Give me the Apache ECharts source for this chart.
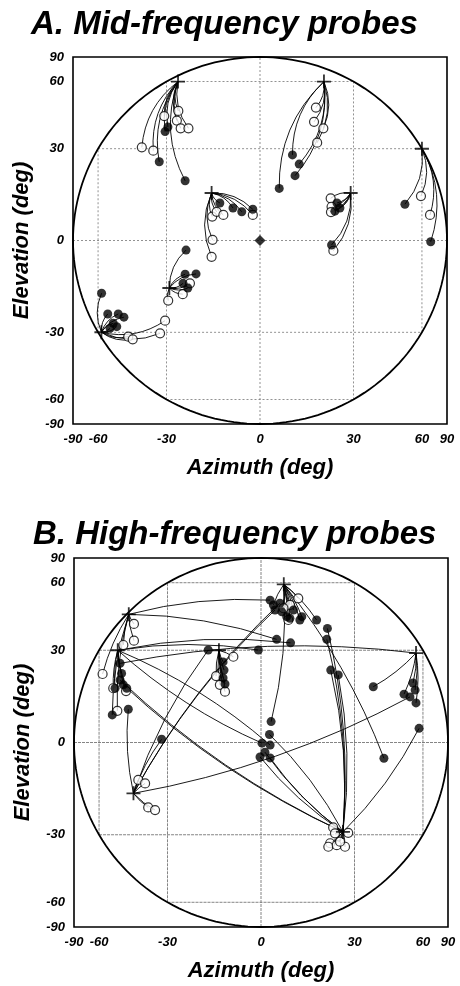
<!DOCTYPE html>
<html><head><meta charset="utf-8">
<script src="https://cdn.jsdelivr.net/npm/echarts@6/dist/echarts.min.js"></script>
<style>html,body{margin:0;padding:0;background:#fff}#c{width:460px;height:986px}</style>
</head><body><div id="c"></div>
<script>
// ---- tick labels (degrees) ----
const tickDeg = [-90, -60, -30, 0, 30, 60, 90];
const gridDeg = [-60, -30, 0, 30, 60];

// ---- Panel A: mid-frequency probes ----
const aTitle = 'A. Mid-frequency probes';
const aTargets = [[-26, 60], [20, 60], [60, 30], [-15, 15], [29, 15], [-29, -15], [-58, -30]];
const aFixation = [[0, 0]];
// [targetIndex, azimuth, elevation]
const aOpen = [
  [0, -25.9, 44.9], [0, -26.4, 40.8], [0, -25.1, 37.7], [0, -22.5, 37.7], [0, -30.8, 42.7],
  [0, -39.2, 30.5], [0, -34.8, 29.3],
  [1, 17.4, 46.4], [1, 16.8, 40.3], [1, 19.8, 37.7], [1, 17.8, 32.2],
  [2, 59.4, 14.0], [2, 65.4, 8.0],
  [3, -14.8, 7.5], [3, -14.7, 0.2], [3, -15.0, -5.1], [3, -13.4, 9.0], [3, -11.3, 8.0], [3, -2.2, 8.0],
  [4, 22.2, 13.3], [4, 22.5, 10.6], [4, 22.3, 8.9], [4, 23.1, -3.2],
  [5, -22.0, -13.5], [5, -24.4, -17.0], [5, -29.4, -19.1],
  [6, -30.5, -25.9], [6, -32.3, -30.4], [6, -44.8, -31.6], [6, -42.9, -32.6]
];
const aFilled = [
  [0, -30.5, 36.4], [0, -29.5, 38.2], [0, -32.6, 25.4], [0, -23.6, 19.0],
  [1, 10.0, 27.8], [1, 12.1, 24.6], [1, 10.8, 20.7], [1, 5.9, 16.5],
  [2, 50.8, 11.4], [2, 65.9, -0.4],
  [3, -12.4, 11.8], [3, -8.3, 10.2], [3, -5.6, 9.0], [3, -2.2, 9.8],
  [4, 24.3, 11.8], [4, 25.3, 10.2], [4, 23.6, 9.2], [4, 22.5, -1.4],
  [5, -23.3, -3.0], [5, -23.6, -10.6], [5, -20.0, -10.5], [5, -24.3, -13.5], [5, -22.7, -15.0],
  [6, -57.9, -16.7], [6, -54.5, -23.6], [6, -49.3, -23.6], [6, -46.7, -24.7],
  [6, -51.7, -26.8], [6, -50.0, -28.0], [6, -53.3, -28.6]
];

// ---- Panel B: high-frequency probes ----
const bTitle = 'B. High-frequency probes';
const bTargets = [[-45, 44], [-50, 30], [-13, 30], [7, 59], [56, 29], [26, -29], [-43, -16]];
const bFixation = [];
const bOpen = [
  [0, -42.8, 40.0], [0, -42.8, 33.5], [0, -47.4, 31.9], [0, -57.9, 21.8], [0, -50.2, 9.9],
  [1, -52.2, 17.1], [1, -46.2, 16.2],
  [2, -12.7, 18.2], [2, -11.1, 16.0], [2, -8.5, 27.7], [2, -13.9, 21.1],
  [3, 11.5, 51.4], [3, 8.9, 48.2], [3, 6.9, 46.7], [3, 8.4, 41.6],
  [5, 22.7, -27.4], [5, 23.3, -29.5], [5, 27.8, -29.3], [5, 21.7, -33.1], [5, 21.1, -34.4],
  [5, 23.9, -33.8], [5, 26.7, -34.4], [5, 25.0, -32.5],
  [6, -41.0, -11.7], [6, -38.3, -12.8], [6, -37.1, -20.6], [6, -34.5, -21.5]
];
const bFilled = [
  [0, 2.8, 50.5], [0, 4.8, 34.0], [0, -52.7, 8.6],
  [1, -48.2, 22.0], [1, -51.3, 17.1], [1, -45.9, 17.1], [1, -0.8, 30.1], [1, 9.1, 32.7],
  [1, 0.3, -0.2], [1, 2.8, -0.8],
  [4, -48.9, 25.4],
  [2, -11.7, 25.9], [2, -11.4, 23.1], [2, -11.7, 20.5], [2, -11.1, 18.5],
  [3, 7.9, 43.0], [3, 12.0, 41.6], [3, 10.0, 45.9], [3, 17.3, 41.6],
  [3, 3.8, 48.2], [3, 6.4, 45.1], [3, 8.9, 42.3], [3, 12.6, 43.0],
  [3, 41.1, -4.9], [3, 3.1, 6.5],
  [4, 36.9, 17.6], [4, 54.4, 18.8], [4, 55.5, 16.5], [4, 56.0, 12.4], [4, 49.9, 15.2],
  [5, 20.8, 38.2], [5, 20.6, 34.0], [5, 21.9, 23.1], [5, 24.4, 21.5], [5, 57.7, 4.4],
  [5, 2.6, 2.5], [5, 1.2, -3.0], [5, 2.8, -4.8], [5, -0.3, -4.5],
  [5, -48.9, 19.8], [5, -47.4, 18.2],
  [6, -32.1, 1.0], [6, 5.8, 49.0], [6, 4.3, 45.9], [6, -16.4, 30.1], [6, 52.8, 14.3], [6, -45.2, 10.4]
];

// ---- helpers ----
const R = Math.PI / 180;
const S = d => Math.sin(d * R);
const P = (az, el) => [S(az), S(el)];
const FONT = '"Liberation Sans", Arial, Helvetica, sans-serif';

const panels = [
  { title: aTitle, targets: aTargets, fix: aFixation, open: aOpen, filled: aFilled,
    grid: { left: 73, top: 57, width: 374, height: 367 }, titleLeft: 26, titleTop: 3, k: 0.22, dash: [2, 2], gcol: '#777' },
  { title: bTitle, targets: bTargets, fix: bFixation, open: bOpen, filled: bFilled,
    grid: { left: 74, top: 558, width: 374, height: 369 }, titleLeft: 28, titleTop: 513, k: 0.08, dash: [3, 1], gcol: '#666' }
];

const option = { animation: false, title: [], grid: [], xAxis: [], yAxis: [], series: [] };

panels.forEach((p, i) => {
  option.title.push({ text: p.title, left: p.titleLeft, top: p.titleTop,
    textStyle: { fontFamily: FONT, fontSize: 33, fontWeight: 'bold', fontStyle: 'italic', color: '#000' } });
  option.grid.push(Object.assign({ show: true, borderColor: '#000', borderWidth: 1.6, backgroundColor: 'transparent' }, p.grid));
  const lab = { show: true, customValues: tickDeg.map(S), margin: 9,
    fontFamily: FONT, fontSize: 13, fontWeight: 'bold', fontStyle: 'italic', color: '#000',
    formatter: v => String(Math.round(Math.asin(Math.max(-1, Math.min(1, v))) / R) + 0) };
  const nameStyle = { fontFamily: FONT, fontSize: 22, fontWeight: 'bold', fontStyle: 'italic', color: '#000' };
  option.xAxis.push({ type: 'value', gridIndex: i, min: -1, max: 1, name: 'Azimuth (deg)', nameLocation: 'middle', nameGap: 33,
    nameTextStyle: nameStyle, axisLine: { show: false }, axisTick: { show: false, customValues: tickDeg.map(S) },
    splitLine: { show: false }, axisLabel: lab });
  option.yAxis.push({ type: 'value', gridIndex: i, min: -1, max: 1, name: 'Elevation (deg)', nameLocation: 'middle', nameGap: 40,
    nameTextStyle: nameStyle, axisLine: { show: false }, axisTick: { show: false, customValues: tickDeg.map(S) },
    splitLine: { show: false }, axisLabel: Object.assign({}, lab) });

  // grid chords inside the circle
  option.series.push({ type: 'custom', xAxisIndex: i, yAxisIndex: i, silent: true, data: [[0, 0]], z: 1,
    renderItem: (params, api) => {
      const ch = [];
      gridDeg.forEach(d => {
        const s = S(d), c = Math.cos(d * R);
        const a1 = api.coord([s, -c]), a2 = api.coord([s, c]);
        const b1 = api.coord([-c, s]), b2 = api.coord([c, s]);
        ch.push({ type: 'line', shape: { x1: a1[0], y1: a1[1], x2: a2[0], y2: a2[1] }, style: { stroke: p.gcol, lineWidth: 0.8, lineDash: p.dash } });
        ch.push({ type: 'line', shape: { x1: b1[0], y1: b1[1], x2: b2[0], y2: b2[1] }, style: { stroke: p.gcol, lineWidth: 0.8, lineDash: p.dash } });
      });
      return { type: 'group', children: ch };
    } });
  // circle boundary
  option.series.push({ type: 'custom', xAxisIndex: i, yAxisIndex: i, silent: true, data: [[0, 0]], z: 2,
    renderItem: (params, api) => {
      const pts = [];
      for (let t = 0; t <= 360; t += 2) pts.push(api.coord([Math.cos(t * R), Math.sin(t * R)]));
      return { type: 'polyline', shape: { points: pts }, style: { stroke: '#000', lineWidth: 1.8, fill: null } };
    } });
  // response paths
  const all = p.open.concat(p.filled);
  option.series.push({ type: 'lines', coordinateSystem: 'cartesian2d', xAxisIndex: i, yAxisIndex: i, z: 3,
    lineStyle: { color: '#000', width: 0.9, opacity: 1 },
    data: all.map(r => {
      const t = p.targets[r[0]];
      const a = P(t[0], t[1]), b = P(r[1], r[2]);
      const dX = b[0] - a[0], dY = b[1] - a[1];
      const mx = (a[0] + b[0]) / 2, my = (a[1] + b[1]) / 2;
      const s = (-dY * mx + dX * my) >= 0 ? 1 : -1;
      return { coords: [a, b], lineStyle: { curveness: s * p.k } };
    }) });
  option.series.push({ type: 'scatter', xAxisIndex: i, yAxisIndex: i, z: 4, symbol: 'circle', symbolSize: 9,
    itemStyle: { color: '#fff', borderColor: '#000', borderWidth: 1.2 },
    data: p.open.map(r => P(r[1], r[2])) });
  option.series.push({ type: 'scatter', xAxisIndex: i, yAxisIndex: i, z: 5, symbol: 'circle', symbolSize: 9,
    itemStyle: { color: '#000' }, data: p.filled.map(r => P(r[1], r[2])) });
  option.series.push({ type: 'scatter', xAxisIndex: i, yAxisIndex: i, z: 6, symbol: 'diamond', symbolSize: 11,
    itemStyle: { color: '#000' }, data: p.fix.map(r => P(r[0], r[1])) });
  option.series.push({ type: 'scatter', xAxisIndex: i, yAxisIndex: i, z: 7,
    symbol: 'path://M-0.13,-1 L0.13,-1 L0.13,1 L-0.13,1 Z M-1,-0.13 L1,-0.13 L1,0.13 L-1,0.13 Z', symbolSize: 14,
    itemStyle: { color: '#000' }, data: p.targets.map(t => P(t[0], t[1])) });
});

const chart = echarts.init(document.getElementById('c'), null, { renderer: 'canvas' });
chart.setOption(option);
</script></body></html>
